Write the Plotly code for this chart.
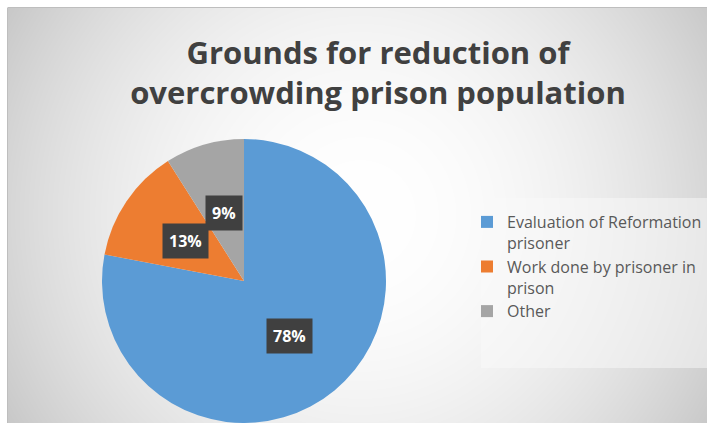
import base64, struct, zlib
import numpy as np
import plotly.graph_objects as go

# ---- data ----
categories = ["Evaluation of Reformation prisoner", "Work done by prisoner in prison", "Other"]
legend_labels = ["Evaluation of Reformation<br>prisoner", "Work done by prisoner in<br>prison", "Other"]
values = [78, 13, 9]
colors = ["#5B9BD5", "#ED7D31", "#A5A5A5"]
title_text = "Grounds for reduction of<br>overcrowding prison population"

W, H = 707, 423
OX, OY = 8, 8  # white margin before the chart area (top/left)

# ---- radial gradient background as PNG ----
def make_png(arr):
    h, w = arr.shape
    raw = b"".join(b"\x00" + arr[i].tobytes() for i in range(h))
    def chunk(t, d):
        c = struct.pack(">I", len(d)) + t + d
        return c + struct.pack(">I", zlib.crc32(t + d) & 0xffffffff)
    png = b"\x89PNG\r\n\x1a\n"
    png += chunk(b"IHDR", struct.pack(">IIBBBBB", w, h, 8, 0, 0, 0, 0))
    png += chunk(b"IDAT", zlib.compress(raw, 9))
    png += chunk(b"IEND", b"")
    return "data:image/png;base64," + base64.b64encode(png).decode()

gw, gh = W - OX, H - OY
yy, xx = np.mgrid[0:gh, 0:gw]
cx, cy = 352, 207
r = np.sqrt((xx - cx) ** 2 + (yy - cy) ** 2)
val = 255 - 55 * (r / 410.0) ** 2
grad = np.clip(val, 190, 255).astype(np.uint8)
bg_src = make_png(grad)

# ---- pie geometry (pixels, window coords) ----
pcx, ptop, prad = 244, 139, 142
pcy = ptop + prad
dom_x = [(pcx - prad) / W, (pcx + prad) / W]
dom_y = [max(0.0, 1 - (ptop + 2 * prad) / H), 1 - ptop / H]

fig = go.Figure(go.Pie(
    labels=legend_labels,
    values=values,
    marker=dict(colors=colors, line=dict(width=0)),
    sort=False,
    direction="clockwise",
    rotation=0,
    textinfo="none",
    hoverinfo="label+percent",
    domain=dict(x=dom_x, y=dom_y),
))

# data labels positioned from cumulative angles
total = sum(values)
cum = 0
annotations = []
for v in values:
    mid = (cum + v / 2) / total * 2 * np.pi  # clockwise from 12 o'clock
    cum += v
    rr = 0.5 * prad
    px = pcx + rr * np.sin(mid)
    py = pcy - rr * np.cos(mid)
    annotations.append(dict(
        x=px / W, y=1 - py / H, xref="paper", yref="paper",
        xanchor="center", yanchor="middle",
        text=f"{round(v / total * 100)}%", showarrow=False,
        font=dict(family="Open Sans", size=16, color="white", weight="bold"),
        bgcolor="#404040", borderpad=6,
    ))

fig.update_layout(
    width=W, height=H,
    margin=dict(l=0, r=0, t=0, b=0),
    paper_bgcolor="white",
    plot_bgcolor="white",
    images=[dict(source=bg_src, xref="paper", yref="paper",
                 x=OX / W, y=1 - OY / H, sizex=gw / W, sizey=gh / H,
                 xanchor="left", yanchor="top", sizing="stretch", layer="below")],
    shapes=[
        dict(type="line", xref="paper", yref="paper", x0=OX / W, x1=1, y0=1 - 7.5 / H, y1=1 - 7.5 / H,
             line=dict(color="#BEBEBE", width=1), layer="below"),
        dict(type="line", xref="paper", yref="paper", x0=7.5 / W, x1=7.5 / W, y0=0, y1=1 - 7.5 / H,
             line=dict(color="#BEBEBE", width=1), layer="below"),
        dict(type="rect", xref="paper", yref="paper", x0=481 / W, x1=1.02, y0=1 - 368 / H, y1=1 - 198 / H,
             line=dict(width=0), fillcolor="rgba(250,250,250,0.5)", layer="below"),
    ],
    title=dict(text=title_text, x=378 / W, xanchor="center", y=1 - 64 / H, yanchor="top",
               font=dict(family="Open Sans", size=31, color="#404040", weight="bold")),
    legend=dict(x=467 / W, y=1 - 205 / H, xanchor="left", yanchor="top",
                bgcolor="rgba(0,0,0,0)", borderwidth=0,
                font=dict(family="Open Sans", size=16, color="#595959"),
                valign="top", itemwidth=30),
    annotations=annotations,
    showlegend=True,
)

fig.write_html(
    "out.html",
    config={"displayModeBar": False},
    post_script="document.body.style.margin='0';document.documentElement.style.overflow='hidden';document.body.style.overflow='hidden';",
)
